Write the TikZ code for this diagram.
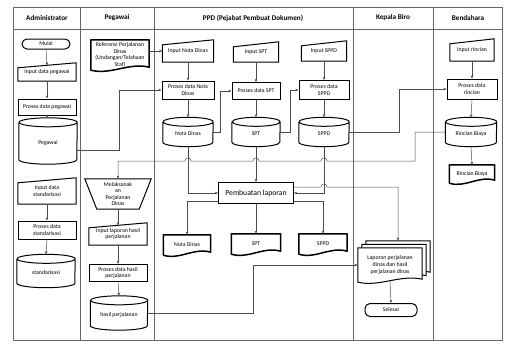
\documentclass[tikz,border=0pt]{standalone}
\usepackage{fontspec}
\setmainfont{Carlito}
\usetikzlibrary{arrows.meta,backgrounds}

\begin{document}
\begin{tikzpicture}
[x=1pt,y=-1pt,
  txtDecorate/.style={font=\fontsize{5.8}{6.6}\selectfont,align=center,inner sep=1pt},
  hdrDecorate/.style={font=\fontsize{7.2}{8}\selectfont\bfseries},
  termDecorate/.style={txtDecorate,draw,line width=1pt,rounded corners=5pt},
  procDecorate/.style={txtDecorate,draw,line width=1pt},
  cylDecorate/.style={txtDecorate,text height=7pt,text depth=0pt},
  outlineDecorate/.style={draw=black,line width=1pt,line join=miter},
  docDecorate/.style={draw=black,line width=1.5pt,line join=round},
  laneDecorate/.style={draw=black!60,line width=0.6pt},
  lineDecorate/.style={draw=black!70,line width=0.5pt},
  arrowDecorate/.style={lineDecorate,-{Stealth[length=3.2pt,width=2.6pt]}}]
\useasboundingbox (0,0) rectangle (505,343);
%% swimlanes
\draw[laneDecorate] (13,7) rectangle (502,340);
\draw[laneDecorate] (13,29) -- (502,29);
\foreach \x in {80,154,353,433}
  \draw[laneDecorate] (\x,7) -- (\x,340);
\foreach \nodename/\x/\txt in {hadm/47/Administrator, hpeg/117/Pegawai, hppd/253/{PPD (Pejabat Pembuat Dokumen)}, hkb/393/Kepala Biro, hbdh/468/Bendahara}
  \node (\nodename) at (\x,18) [hdrDecorate] {\txt};
%% terminals
\node (mulai) at (46,44) [termDecorate,minimum width=48pt,minimum height=10pt] {Mulai};
\node (selesai) at (391,310) [termDecorate,minimum width=52pt,minimum height=13pt] {Selesai};
%% processes
\foreach \nodename/\x/\y/\w/\h/\txt in {
  prpeg/47/107/58/16/{Proses data pegawai},
  prstd/47/230/58/18/{Proses data\\standarisasi},
  prlap/118/273/58/17/{Proses data hasil\\perjalanan},
  prnd/188/90/52/18/{Proses data Nota\\Dinas},
  prspt/256/91/48/17/{Proses data SPT},
  prsppd/324/90/50/19/{Proses data\\SPPD},
  prrinc/472/89/50/20/{Proses data\\rincian}}
  \node (\nodename) at (\x,\y) [procDecorate,minimum width=\w pt,minimum height=\h pt] {\txt};
\node (lap) at (256,193) [procDecorate,font=\fontsize{7.7}{9}\selectfont,minimum width=75pt,minimum height=21pt] {Pembuatan laporan};
%% manual inputs
\foreach \nodename/\x/\y/\w/\h/\txt in {
  inpeg/47/72/58/18/{Input data pegawai},
  instd/47/191/58/26/{Input data\\standarisasi},
  inlap/118/234/58/22/{Input laporan hasil\\perjalanan},
  innd/188/51/51/22/{Input Nota Dinas},
  inspt/256/52/45/20/{Input SPT},
  insppd/324/51/45/20/{Input SPPD},
  inrinc/472/50/44/22/{Input rincian}} {
  \node (\nodename) at (\x,\y) [txtDecorate,minimum width=\w pt,minimum height=\h pt] {\txt};
  \draw[outlineDecorate] (\nodename.south west) -- (\nodename.south east) -- (\nodename.north east)
    -- ([yshift=-5pt]\nodename.north west) -- cycle;
}
%% manual operation
\node (laks) at (118,194) [txtDecorate,minimum width=66pt,minimum height=30pt] {Melaksanak\\an\\Perjalanan\\Dinas};
\draw[outlineDecorate] (laks.north west) -- (laks.north east) -- ([xshift=-12pt]laks.south east)
  -- ([xshift=12pt]laks.south west) -- cycle;
%% stored data
\foreach \nodename/\x/\y/\w/\h/\txt in {
  dbpeg/48/141/58/46/Pegawai,
  dbstd/46/271/58/33/standarisasi,
  dblap/119/313/57/34/{hasil perjalanan},
  dbnd/188/132/50/29/{Nota Dinas},
  dbspt/256/132/48/29/SPT,
  dbsppd/324/132/50/29/SPPD,
  dbrinc/471/132/51/29/{Rincian Biaya}} {
  \node (\nodename) at (\x,\y) [cylDecorate,minimum width=\w pt,minimum height=\h pt] {\txt};
  \draw[outlineDecorate] ([yshift=-4.5pt]\nodename.north west) -- ([yshift=4.5pt]\nodename.south west)
    arc[start angle=180,end angle=360,x radius={\w*0.5pt},y radius=4.5pt]
    -- ([yshift=-4.5pt]\nodename.north east)
    arc[start angle=0,end angle=360,x radius={\w*0.5pt},y radius=4.5pt];
}
%% documents
\foreach \nodename/\x/\y/\w/\h/\txt in {
  ref/120/55/58/30/{Referensi Perjalanan\\Dinas\\(Undangan/Telahaan\\Staf)},
  dcnd/187/245/47/20/{Nota Dinas},
  dcspt/256/244/49/20/SPT,
  dcsppd/323/244/48/20/SPPD,
  dcrinc/472/174/45/18/{Rincian Biaya}} {
  \node (\nodename) at (\x,\y) [txtDecorate,minimum width=\w pt,minimum height=\h pt] {\txt};
  \draw[docDecorate] ([yshift=3pt]\nodename.south east)
    .. controls ([xshift={-0.35*\w pt},yshift=8pt]\nodename.south east)
    and ([xshift={0.35*\w pt},yshift=-5pt]\nodename.south west) .. (\nodename.south west)
    -- (\nodename.north west) -- (\nodename.north east) -- cycle;
}
%% multiple documents
\node (dclpj) at (390,265) [txtDecorate,minimum width=64pt,minimum height=34pt] {Laporan perjalanan\\dinas dan hasil\\perjalanan dinas};
\begin{pgfonlayer}{background}
\foreach \s in {2,1,0}
  \draw[outlineDecorate,fill=white]
    ([xshift=4*\s pt,yshift=3.5*\s pt]dclpj.south west) -- ([xshift=4*\s pt,yshift=3.5*\s pt]dclpj.north west)
    -- ([xshift=4*\s pt,yshift=3.5*\s pt]dclpj.north east) -- ([xshift=4*\s pt,yshift={3.5*\s pt+3pt}]dclpj.south east)
    .. controls ([xshift={4*\s pt-22pt},yshift={3.5*\s pt+8pt}]dclpj.south east)
    and ([xshift={4*\s pt+22pt},yshift={3.5*\s pt-5pt}]dclpj.south west)
    .. ([xshift=4*\s pt,yshift=3.5*\s pt]dclpj.south west) -- cycle;
\end{pgfonlayer}
%% straight connectors
\foreach \startnode/\endnode in {inpeg/prpeg, prpeg/dbpeg, instd/prstd, prstd/dbstd, inlap/prlap, prlap/dblap,
  innd/prnd, prnd/dbnd, inspt/prspt, prspt/dbspt, insppd/prsppd, prsppd/dbsppd, dbspt/lap, lap/dcspt,
  inrinc/prrinc, prrinc/dbrinc, dbrinc/dcrinc}
  \draw[arrowDecorate] (\startnode.south) -- (\endnode.north);
\draw[arrowDecorate] (mulai.south) -- ([yshift=-2.5pt]inpeg.north);
\draw[arrowDecorate] (laks.south) -- ([yshift=-2.5pt]inlap.north);
\draw[arrowDecorate] ([yshift=1.5pt]dclpj.south) -- (selesai.north);
%% routed connectors
\draw[arrowDecorate] (ref.east |- innd.west) -- (innd.west);
\draw[arrowDecorate] ([yshift=-9pt]dbpeg.east) -- (119,150) |- (prnd.west);
\draw[arrowDecorate] (dbnd.east) -- (220,132) |- (prspt.west);
\draw[arrowDecorate] (dbspt.east) -- (290,132) |- (prsppd.west);
\draw[arrowDecorate] (dbsppd.east) -- (399,132) |- (prrinc.west);
\draw[arrowDecorate] (dbnd.south) |- (lap.west);
\draw[arrowDecorate] (dbsppd.south) |- (lap.east);
\draw[arrowDecorate] ([yshift=-8pt]lap.west) -| (dcnd.north);
\draw[arrowDecorate] ([yshift=-8pt]lap.east) -| (dcsppd.north);
\draw[arrowDecorate] ([yshift=6pt]lap.east) -- (321,187) .. controls (321,183) and (327,183) .. (327,187)
  -| ([xshift=8pt,yshift=7pt]dclpj.north);
\draw[arrowDecorate] (dblap.east) -- (253,313) |- (dclpj.west);
\draw[arrowDecorate] (dbrinc.west) -- (415,132) -- (415,161)
  -- (327,161) .. controls (327,157) and (321,157) .. (321,161)
  -- (259,161) .. controls (259,157) and (253,157) .. (253,161)
  -- (191,161) .. controls (191,157) and (185,157) .. (185,161)
  -| (laks.north);
\end{tikzpicture}
\end{document}
